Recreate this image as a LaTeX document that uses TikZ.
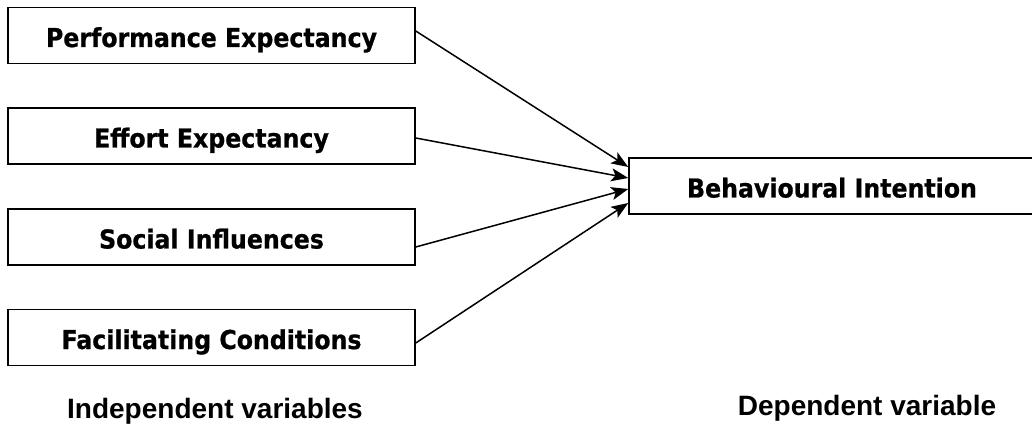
\documentclass[tikz,border=0pt]{standalone}
\usepackage{fontspec}
\setmainfont{Liberation Sans}
\newfontfamily\boxfont{DejaVu Sans}[FakeStretch=0.91,FakeBold=0.8]
\newfontfamily\labfont{Liberation Sans}
\usetikzlibrary{arrows.meta,calc}
\begin{document}
\begin{tikzpicture}[x=1pt,y=-1pt,
  var/.style={draw=black,line width=1.5pt,minimum width=407pt,minimum height=56pt,
    inner sep=0pt,text height=23pt,text depth=0pt,
    font=\boxfont\bfseries\fontsize{26}{30}\selectfont},
  conn/.style={line width=1.5pt,-{Stealth[length=17pt,width=13pt,inset=4pt]}},
  caption/.style={anchor=base,inner sep=0pt,font=\labfont\bfseries\fontsize{28}{32}\selectfont}]
\useasboundingbox (0,0) rectangle (1032,435);
\clip (0,0) rectangle (1032,435);
\node[var] (pe) at (211.5,35.5) {Performance Expectancy};
\node[var] (ee) at (211.5,136) {Effort Expectancy};
\node[var] (si) at (211.5,237) {Social Influences};
\node[var] (fc) at (211.5,337.5) {Facilitating Conditions};
\node[var,minimum width=406pt] (bi) at (832,186) {Behavioural Intention};
\draw[conn] ($(pe.east)+(0,-4.5)$) -- ($(bi.west)+(0,-19)$);
\draw[conn] ($(ee.east)+(0,2)$) -- ($(bi.west)+(0,-8)$);
\draw[conn] ($(si.east)+(0,10)$) -- ($(bi.west)+(0,3)$);
\draw[conn] ($(fc.east)+(0,5.5)$) -- ($(bi.west)+(0,17)$);
\node[caption] (iv) at (215,418) {Independent variables};
\node[caption] (dv) at (867,415) {Dependent variable};
\end{tikzpicture}
\end{document}
